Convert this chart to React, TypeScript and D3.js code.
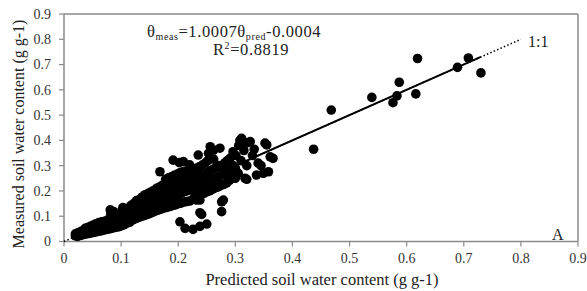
import React from 'react';
import * as d3 from 'd3';

const W = 587;
const H = 291;

// [predicted, measured] pairs
const lowBand: [number, number][] = [
  [0.020,0.022],[0.020,0.030],[0.024,0.020],[0.025,0.035],[0.026,0.028],[0.030,0.024],[0.030,0.040],[0.031,0.032],
  [0.035,0.028],[0.035,0.045],[0.036,0.036],[0.037,0.052],[0.040,0.030],[0.040,0.041],[0.041,0.055],[0.042,0.048],
  [0.045,0.032],[0.045,0.045],[0.046,0.060],[0.047,0.038],[0.050,0.035],[0.050,0.050],[0.051,0.065],[0.052,0.042],
  [0.055,0.037],[0.055,0.055],[0.056,0.070],[0.057,0.046],[0.060,0.040],[0.060,0.060],[0.061,0.075],[0.062,0.050],
  [0.065,0.042],[0.065,0.058],[0.066,0.078],[0.067,0.068],[0.070,0.045],[0.070,0.062],[0.071,0.080],[0.072,0.072],
  [0.075,0.048],[0.075,0.066],[0.076,0.084],[0.080,0.050],[0.080,0.070],[0.080,0.090],[0.081,0.125],[0.082,0.110],
  [0.085,0.053],[0.085,0.075],[0.086,0.094],[0.087,0.118],[0.090,0.056],[0.090,0.080],[0.091,0.100],[0.092,0.068],
  [0.095,0.058],[0.095,0.086],[0.096,0.106],[0.097,0.072],[0.100,0.062],[0.100,0.082],[0.101,0.100],[0.101,0.120],
  [0.103,0.134],[0.105,0.066],[0.105,0.090],[0.106,0.112],[0.107,0.130],[0.110,0.072],[0.110,0.095],[0.111,0.116],
  [0.112,0.085],
];

const midBand: [number, number][] = [
  [0.115,0.076],[0.115,0.100],[0.116,0.125],[0.117,0.142],[0.120,0.085],[0.120,0.106],[0.121,0.130],[0.122,0.150],
  [0.125,0.090],[0.125,0.115],[0.126,0.140],[0.127,0.162],[0.130,0.095],[0.130,0.120],[0.131,0.145],[0.132,0.166],
  [0.135,0.098],[0.135,0.126],[0.136,0.152],[0.137,0.176],[0.140,0.102],[0.140,0.130],[0.141,0.160],[0.142,0.185],
  [0.145,0.106],[0.145,0.136],[0.146,0.166],[0.147,0.190],[0.150,0.110],[0.150,0.140],[0.151,0.170],[0.152,0.196],
  [0.155,0.115],[0.155,0.146],[0.156,0.176],[0.157,0.202],[0.160,0.120],[0.160,0.150],[0.161,0.182],[0.162,0.210],
  [0.165,0.124],[0.165,0.156],[0.166,0.186],[0.167,0.215],[0.168,0.276],[0.170,0.128],[0.170,0.160],[0.171,0.192],
  [0.172,0.222],[0.175,0.132],[0.175,0.166],[0.176,0.196],[0.177,0.226],[0.178,0.246],[0.180,0.135],[0.180,0.170],
  [0.181,0.202],[0.182,0.232],[0.183,0.252],[0.185,0.138],[0.185,0.174],[0.186,0.206],[0.187,0.236],[0.188,0.256],
  [0.190,0.142],[0.190,0.178],[0.191,0.212],[0.192,0.242],[0.193,0.262],[0.191,0.322],[0.195,0.145],[0.195,0.182],
  [0.196,0.216],[0.197,0.246],[0.198,0.266],[0.200,0.150],[0.200,0.186],[0.201,0.222],[0.202,0.252],[0.203,0.272],
  [0.202,0.312],[0.205,0.152],[0.205,0.190],[0.206,0.226],[0.207,0.256],[0.208,0.276],[0.209,0.316],[0.210,0.156],
  [0.210,0.196],[0.211,0.232],[0.212,0.262],[0.215,0.158],[0.215,0.200],[0.216,0.236],[0.217,0.266],[0.218,0.286],
  [0.220,0.160],[0.220,0.204],[0.221,0.242],[0.222,0.272],[0.220,0.303],
];

const upperBand: [number, number][] = [
  [0.225,0.166],[0.225,0.202],[0.226,0.240],[0.227,0.280],[0.230,0.172],[0.230,0.212],[0.231,0.250],[0.232,0.290],
  [0.232,0.164],[0.235,0.182],[0.235,0.216],[0.236,0.256],[0.237,0.296],[0.235,0.342],[0.240,0.186],[0.240,0.222],
  [0.241,0.262],[0.242,0.302],[0.245,0.190],[0.245,0.226],[0.246,0.266],[0.247,0.310],[0.250,0.196],[0.250,0.232],
  [0.251,0.272],[0.252,0.320],[0.253,0.349],[0.255,0.200],[0.255,0.240],[0.256,0.280],[0.256,0.375],[0.260,0.206],
  [0.260,0.246],[0.261,0.286],[0.262,0.326],[0.262,0.362],[0.265,0.212],[0.265,0.250],[0.266,0.292],[0.270,0.216],
  [0.270,0.256],[0.271,0.300],[0.273,0.369],[0.275,0.222],[0.275,0.262],[0.276,0.296],[0.280,0.226],[0.280,0.266],
  [0.281,0.310],[0.285,0.232],[0.285,0.272],[0.286,0.320],[0.290,0.242],[0.290,0.282],[0.291,0.330],[0.296,0.256],
  [0.296,0.300],[0.296,0.355],[0.300,0.250],[0.300,0.290],[0.301,0.340],
];

const sparse: [number, number][] = [
  [0.305,0.270],[0.306,0.380],[0.308,0.400],[0.311,0.408],[0.310,0.320],[0.315,0.360],[0.317,0.250],[0.320,0.300],
  [0.320,0.246],[0.320,0.390],[0.326,0.395],[0.330,0.340],[0.333,0.365],[0.337,0.263],[0.340,0.310],[0.345,0.300],
  [0.349,0.270],[0.352,0.389],[0.355,0.382],[0.358,0.276],[0.361,0.335],[0.366,0.329],
];

const lowScatter: [number, number][] = [
  [0.203,0.078],[0.212,0.052],[0.226,0.048],[0.238,0.060],[0.250,0.069],[0.241,0.107],[0.238,0.114],
  [0.276,0.118],[0.276,0.157],[0.279,0.164],[0.238,0.164],
];

const highPoints: [number, number][] = [
  [0.437,0.365],[0.468,0.520],[0.539,0.570],[0.576,0.549],[0.583,0.576],[0.587,0.630],[0.616,0.584],
  [0.619,0.724],[0.689,0.689],[0.708,0.726],[0.730,0.667],
];

const tickValues = [0, 0.1, 0.2, 0.3, 0.4, 0.5, 0.6, 0.7, 0.8, 0.9];
const slope = 1.0007;
const intercept = -0.0004;
const fitRange = [0.018, 0.73];
const oneToOneRange = [0, 0.8];

const allPoints = [...lowBand, ...midBand, ...upperBand, ...sparse, ...lowScatter, ...highPoints];

const FONT = 'Liberation Serif, Times New Roman, serif';
const AXIS = '#8a8a8a';

export default function App() {
  const x = d3.scaleLinear().domain([0, 0.9]).range([64, 578]);
  const y = d3.scaleLinear().domain([0, 0.9]).range([241.5, 14]);
  const line = d3.line<number>().x((d) => x(d)).y((d) => y(slope * d + intercept));
  const oneLine = d3.line<number>().x((d) => x(d)).y((d) => y(d));
  const fmt = (v: number) => (v === 0 ? '0' : v.toFixed(1));
  const T = { fontFamily: FONT } as React.CSSProperties;
  const TE = { fontFamily: FONT, letterSpacing: '0.6px' } as React.CSSProperties;

  return (
    <svg width={W} height={H} style={{ position: 'absolute', left: 0, top: 0, background: '#fff' }}>
      <rect x={0} y={0} width={W} height={H} fill="#fff" />
      <line x1={x(0)} x2={x(0.9)} y1={y(0.9)} y2={y(0.9)} stroke={AXIS} strokeWidth={1.5} />
      <line x1={x(0.9)} x2={x(0.9)} y1={y(0.9)} y2={y(0)} stroke={AXIS} strokeWidth={1.5} />
      <line x1={x(0)} x2={x(0.9)} y1={y(0)} y2={y(0)} stroke={AXIS} strokeWidth={1.5} />
      <line x1={x(0)} x2={x(0)} y1={y(0.9)} y2={y(0)} stroke={AXIS} strokeWidth={1.5} />
      {tickValues.map((t) => (
        <g key={'x' + t}>
          <line x1={x(t)} x2={x(t)} y1={y(0)} y2={y(0) + 5} stroke={AXIS} strokeWidth={1.2} />
          <text x={x(t)} y={263} textAnchor="middle" fontSize={14} fill="#333" style={T}>{fmt(t)}</text>
        </g>
      ))}
      {tickValues.map((t) => (
        <g key={'y' + t}>
          <line x1={x(0) - 5} x2={x(0)} y1={y(t)} y2={y(t)} stroke={AXIS} strokeWidth={1.2} />
          <text x={51} y={y(t)} dy="0.35em" textAnchor="end" fontSize={14} fill="#333" style={T}>{fmt(t)}</text>
        </g>
      ))}
      <path d={oneLine(oneToOneRange) || ''} fill="none" stroke="#000" strokeWidth={1.5} strokeDasharray="1.5,2.2" />
      {allPoints.map((p, i) => (
        <circle key={i} cx={x(p[0])} cy={y(p[1])} r={4.8} fill="#000" />
      ))}
      <path d={line(fitRange) || ''} fill="none" stroke="#000" strokeWidth={2} />
      <text x={528} y={47} fontSize={16} fill="#222" style={T}>1:1</text>
      <text x={552} y={240} fontSize={16} fill="#222" style={T}>A</text>
      <text x={147} y={36.5} fontSize={16.5} fill="#222" style={TE}>
        θ<tspan fontSize={10} dy={3}>meas</tspan>
        <tspan dy={-3}>=1.0007θ</tspan>
        <tspan fontSize={10} dy={3}>pred</tspan>
        <tspan dy={-3}>-0.0004</tspan>
      </text>
      <text x={213} y={55} fontSize={16.5} fill="#222" style={TE}>
        R<tspan fontSize={10} dy={-6}>2</tspan>
        <tspan dy={6}>=0.8819</tspan>
      </text>
      <text x={322} y={285} textAnchor="middle" fontSize={16.5} fill="#222" style={T}>Predicted soil water content (g g-1)</text>
      <text transform={`translate(23.5,134) rotate(-90)`} textAnchor="middle" fontSize={16} fill="#222" style={T}>Measured soil water content (g g-1)</text>
    </svg>
  );
}
